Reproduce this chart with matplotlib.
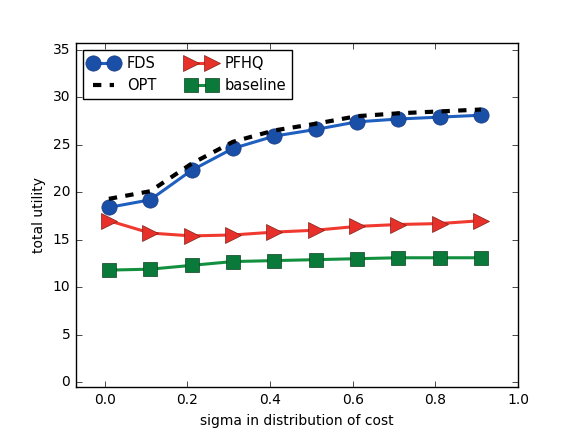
import matplotlib
matplotlib.use('Agg')
import matplotlib.pyplot as plt

sigma = [0.01, 0.11, 0.21, 0.31, 0.41, 0.51, 0.61, 0.71, 0.81, 0.91]
fds = [18.4, 19.2, 22.3, 24.6, 25.9, 26.6, 27.4, 27.7, 27.9, 28.1]
opt = [19.3, 20.1, 23.0, 25.3, 26.5, 27.2, 28.0, 28.3, 28.5, 28.7]
pfhq = [17.0, 15.7, 15.4, 15.5, 15.8, 16.0, 16.4, 16.6, 16.7, 17.0]
baseline = [11.8, 11.9, 12.3, 12.7, 12.8, 12.9, 13.0, 13.1, 13.1, 13.1]

plt.style.use('classic')
fig = plt.figure(figsize=(5.7, 4.3), dpi=100)
ax = fig.add_axes([0.133, 0.1, 0.776, 0.8])

ax.plot(sigma, fds, '-o', color='#1f5fc0', lw=2.2, ms=11,
        mfc='#1a4fa8', mec='#1a3a80', label='FDS')
ax.plot(sigma, opt, '--', color='black', lw=3, label='OPT')
ax.plot(sigma, pfhq, '->', color='#f03a30', lw=2.2, ms=11,
        mfc='#e8302a', mec='#802018', label='PFHQ')
ax.plot(sigma, baseline, '-s', color='#129040', lw=2.2, ms=10,
        mfc='#0a7a3a', mec='#0a4020', label='baseline')

ax.set_xlim(-0.07, 1.0)
ax.set_ylim(-0.5, 35.7)
ax.set_xticks([0.0, 0.2, 0.4, 0.6, 0.8, 1.0])
ax.set_yticks(range(0, 36, 5))
ax.tick_params(labelsize=10)
ax.set_xlabel('sigma in distribution of cost', fontsize=10)
ax.set_ylabel('total utility', fontsize=10)
ax.legend(loc='upper left', ncol=2, fontsize=10.5, numpoints=2,
          handlelength=2.0, handletextpad=0.6, columnspacing=2.1,
          borderaxespad=0.5)

fig.savefig('out.png', dpi=100)
